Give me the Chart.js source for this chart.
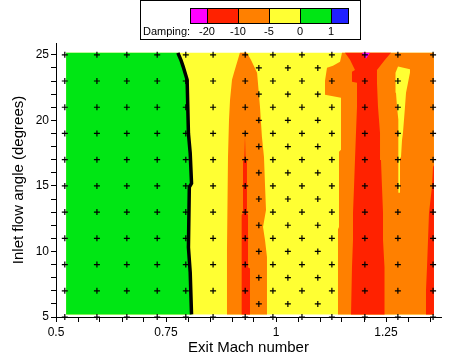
<!DOCTYPE html>
<html>
<head>
<meta charset="utf-8">
<script src="https://cdn.jsdelivr.net/npm/chart.js@4.4.1/dist/chart.umd.min.js"></script>
<style>
  body { margin: 0; background: #fff; }
  canvas { display: block; }
</style>
</head>
<body>
<canvas id="dampingMap" width="464" height="361"></canvas>
<script>
// Etiquettes des axes
const xTickLabels = [0.5, 0.75, 1, 1.25];
const yTickLabels = [5, 10, 15, 20, 25];

// Légende (niveaux d'amortissement)
const legendLabels = ["-20", "-10", "-5", "0", "1"];
const legendColors = ["#ff00ff", "#ff2200", "#ff8000", "#ffff33", "#00e614", "#2020ff"];

// Points de calcul (croix noires)
const markerX = [0.52, 0.593, 0.661, 0.73, 0.795, 0.857, 0.93, 0.993, 1.059, 1.127, 1.202, 1.277, 1.357];
const markerY = [5, 7, 9, 11, 13, 15, 17, 19, 21, 23, 25];
const offsetX = [0.961, 1.027, 1.095];
const offsetY = [6, 8, 10, 12, 14, 16, 18, 20, 22, 24];

// Domaine calculé
const domainZone = [[0.523, 5.2], [0.523, 25.15], [1.359, 25.15], [1.359, 5.2]];

// Contour damping = 0 (ligne noire), du haut vers le bas
const zeroContour = [[0.777, 25.15], [0.784, 24.6], [0.789, 24.1], [0.798, 23.1], [0.801, 19.0], [0.805, 17.5],
    [0.808, 15.2], [0.803, 14.9], [0.801, 10.3], [0.805, 8.4], [0.808, 5.2]];

const greenZone = [[0.523, 5.2], [0.523, 25.15]].concat(zeroContour);

const centralOrange = [[0.918, 25.15], [0.9045, 23.63], [0.9, 23.09], [0.8955, 21.56], [0.8932, 20.04], [0.8909, 17.21],
    [0.8886, 10.11], [0.8886, 5.2], [0.9795, 5.2], [0.9795, 9.58], [0.975, 10.88], [0.9705, 11.87], [0.9773, 13.17],
    [0.975, 15.08], [0.9727, 17.21], [0.968, 18.74], [0.9636, 21.03], [0.957, 23.63], [0.943, 24.62], [0.934, 25.15]];

const centralRed = [[0.9295, 18.89], [0.931, 16.98], [0.934, 16.9], [0.934, 12.9], [0.9364, 12.8], [0.9364, 8.8],
    [0.9409, 8.7], [0.9409, 5.2], [0.9205, 5.2], [0.9205, 8.7], [0.9227, 8.8], [0.9227, 12.8], [0.925, 12.9],
    [0.925, 16.9], [0.928, 16.98]];

const rightOrange = [[1.15, 25.15], [1.1455, 24.47], [1.1295, 24.16], [1.1159, 24.01], [1.1114, 23.02], [1.1114, 21.95],
    [1.1477, 21.72], [1.1477, 17.75], [1.1432, 17.6], [1.1432, 11.87], [1.1409, 11.7], [1.1409, 5.2],
    [1.359, 5.2], [1.359, 25.15]];

const redBand = [[1.1568, 25.15], [1.1682, 24.62], [1.1795, 23.85], [1.1727, 23.7], [1.1727, 22.95], [1.1841, 22.86],
    [1.1841, 21.03], [1.1818, 19.05], [1.1795, 16.98], [1.1773, 14.92], [1.175, 12.94], [1.175, 10.88],
    [1.1727, 8.82], [1.1705, 7.06], [1.1705, 5.2], [1.2477, 5.2], [1.2477, 7.06], [1.2455, 8.82], [1.2432, 10.88],
    [1.2432, 12.94], [1.2409, 14.92], [1.2386, 16.98], [1.2364, 19.05], [1.2318, 21.03], [1.2295, 22.86],
    [1.2295, 23.85], [1.2477, 24.62], [1.2614, 25.15]];

const rightYellow = [[1.2773, 24.1], [1.3045, 23.9], [1.3045, 23.63], [1.3, 22.86], [1.2955, 22.1], [1.2932, 21.03],
    [1.2909, 20.04], [1.2886, 19.05], [1.2864, 18.51], [1.2841, 17.21], [1.2818, 17.1], [1.2818, 14.47],
    [1.2795, 14.47], [1.2795, 17.1], [1.2773, 17.21], [1.2773, 20.04], [1.275, 21.03], [1.2727, 22.1],
    [1.2705, 22.86], [1.2727, 23.63]];

const farRightRed = [[1.359, 16.6], [1.3568, 16.45], [1.3545, 14.92], [1.3477, 12.94], [1.3455, 10.88],
    [1.3432, 8.82], [1.3409, 7.06], [1.3409, 5.2], [1.359, 5.2]];

const magentaSpot = [[1.1955, 25.15], [1.2136, 25.15], [1.2045, 24.69]];

// Fonction pour créer une zone colorée (polygone rempli)
function zone(points, color, order) {
    return {
        data: points.map(p => ({x: p[0], y: p[1]})),
        showLine: true,
        fill: "shape",
        backgroundColor: color,
        borderColor: "rgba(0,0,0,0)",
        borderWidth: 0,
        pointRadius: 0,
        order: order
    };
}

// Grille des points de calcul
const markers = [];
markerY.forEach(y => markerX.forEach(x => markers.push({x: x, y: y})));
offsetY.forEach(y => offsetX.forEach(x => markers.push({x: x, y: y})));

// Légende en barre de couleurs
const colorBarLegend = {
    id: "colorBarLegend",
    afterDraw(chart) {
        const ctx = chart.ctx;
        ctx.save();
        ctx.strokeStyle = "#000";
        ctx.lineWidth = 1;
        ctx.strokeRect(140.5, 0.5, 220, 39);
        const widths = [17, 31, 31, 31, 31, 17];
        let x = 190;
        const edges = [];
        legendColors.forEach((c, i) => {
            ctx.fillStyle = c;
            ctx.fillRect(x, 8, widths[i], 15);
            ctx.strokeRect(x + 0.5, 8.5, widths[i], 15);
            x += widths[i];
            edges.push(x);
        });
        ctx.fillStyle = "#000";
        ctx.font = "11px 'Liberation Sans', Arial, sans-serif";
        ctx.textBaseline = "middle";
        ctx.textAlign = "left";
        ctx.fillText("Damping:", 143, 32);
        ctx.textAlign = "center";
        legendLabels.forEach((l, i) => ctx.fillText(l, edges[i], 32));
        ctx.restore();
    }
};

Chart.defaults.font.family = "'Liberation Sans', Arial, sans-serif";
Chart.defaults.color = "#000";

const ctx = document.getElementById("dampingMap").getContext("2d");
const chart = new Chart(ctx, {
    type: "scatter",
    data: {
        datasets: [
            {
                data: markers,
                pointStyle: "cross",
                pointRadius: 3,
                borderWidth: 1.2,
                borderColor: "#000",
                backgroundColor: "#000",
                clip: false,
                order: 0
            },
            {
                data: zeroContour.map(p => ({x: p[0], y: p[1]})),
                showLine: true,
                fill: false,
                borderColor: "#000",
                borderWidth: 3.5,
                pointRadius: 0,
                order: 1
            },
            zone(magentaSpot, legendColors[0], 2),
            zone(redBand, legendColors[1], 3),
            zone(centralRed, legendColors[1], 3),
            zone(farRightRed, legendColors[1], 3),
            zone(rightYellow, legendColors[3], 3),
            zone(greenZone, legendColors[4], 4),
            zone(centralOrange, legendColors[2], 4),
            zone(rightOrange, legendColors[2], 4),
            zone(domainZone, legendColors[3], 5)
        ]
    },
    options: {
        responsive: false,
        animation: false,
        events: [],
        layout: {padding: {top: 43, right: 23, bottom: 0, left: 0}},
        plugins: {
            legend: {display: false},
            tooltip: {enabled: false}
        },
        scales: {
            x: {
                type: "linear",
                min: 0.5,
                max: 1.375,
                afterFit: s => { s.height = 44; },
                grid: {drawOnChartArea: false, drawTicks: true, tickLength: 5, color: "#000"},
                border: {color: "#000", width: 1},
                ticks: {
                    stepSize: 0.05,
                    includeBounds: false,
                    autoSkip: false,
                    maxRotation: 0,
                    padding: 3,
                    font: {size: 12},
                    callback: v => {
                        const t = xTickLabels.find(l => Math.abs(l - v) < 1e-6);
                        return t === undefined ? "" : String(t);
                    }
                },
                title: {display: true, text: "Exit Mach number", font: {size: 15}, padding: {top: 0, bottom: 4}}
            },
            y: {
                type: "linear",
                min: 5,
                max: 25.9,
                afterFit: s => { s.width = 56; },
                grid: {drawOnChartArea: false, drawTicks: true, tickLength: 5, color: "#000"},
                border: {color: "#000", width: 1},
                ticks: {
                    stepSize: 1,
                    includeBounds: false,
                    autoSkip: false,
                    padding: 2,
                    font: {size: 12},
                    callback: v => yTickLabels.includes(v) ? String(v) : ""
                },
                title: {display: true, text: "Inlet flow angle (degrees)", font: {size: 15}, padding: {top: 10, bottom: 0}}
            }
        }
    },
    plugins: [colorBarLegend]
});
</script>
</body>
</html>
